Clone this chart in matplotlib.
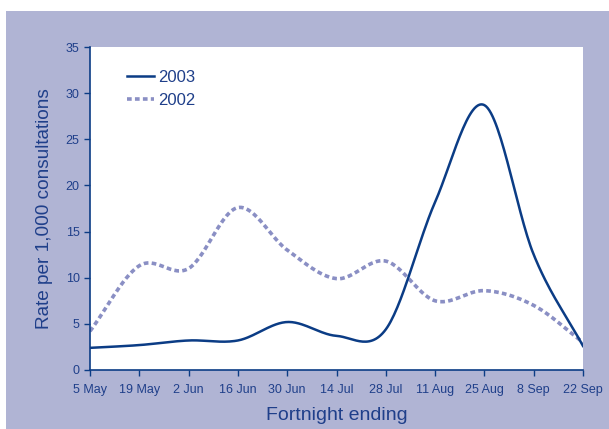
import numpy as np
import matplotlib
matplotlib.use("Agg")
import matplotlib.pyplot as plt
from matplotlib.patches import Rectangle

# -----------------------------
# Data
# -----------------------------
dates = ["5 May", "19 May", "2 Jun", "16 Jun", "30 Jun", "14 Jul",
         "28 Jul", "11 Aug", "25 Aug", "8 Sep", "22 Sep"]
rate_2003 = [2.4, 2.7, 3.2, 3.2, 5.2, 3.7, 4.4, 18.2, 28.7, 12.5, 2.6]
rate_2002 = [4.2, 11.3, 11.0, 17.6, 13.0, 9.9, 11.8, 7.5, 8.6, 7.0, 3.0]

NAVY = "#0b3c85"
LAVENDER = "#8a8fc4"
TEXT = "#1f3f8a"
BG = "#b0b4d4"

plt.rcParams["font.family"] = ["Liberation Sans", "DejaVu Sans"]


def smooth(y, n=30):
    # Catmull-Rom curve through the points, like the spreadsheet "smoothed line"
    y = np.asarray(y, dtype=float)
    p = np.concatenate([[2 * y[0] - y[1]], y, [2 * y[-1] - y[-2]]])
    xs, ys = [], []
    for i in range(len(y) - 1):
        t = np.linspace(0, 1, n, endpoint=False)
        p0, p1, p2, p3 = p[i], p[i + 1], p[i + 2], p[i + 3]
        seg = 0.5 * ((2 * p1) + (-p0 + p2) * t
                     + (2 * p0 - 5 * p1 + 4 * p2 - p3) * t ** 2
                     + (-p0 + 3 * p1 - 3 * p2 + p3) * t ** 3)
        xs.append(i + t)
        ys.append(seg)
    xs.append([len(y) - 1])
    ys.append([y[-1]])
    return np.concatenate(xs), np.concatenate(ys)


fig = plt.figure(figsize=(6.09, 4.29), dpi=100)
fig.patch.set_facecolor("white")
fig.patches.append(Rectangle((6 / 609, 0), 1, (429 - 11) / 429,
                             transform=fig.transFigure, facecolor=BG,
                             edgecolor="none", zorder=-10))

ax = fig.add_axes([90 / 609, (429 - 370) / 429, 493 / 609, 323 / 429])
ax.set_facecolor("white")

x = np.arange(len(dates))
sx, sy = smooth(rate_2003)
ax.plot(sx, sy, color=NAVY, lw=1.8, label="2003", zorder=3)
sx, sy = smooth(rate_2002)
ax.plot(sx, sy, color=LAVENDER, lw=2.6, linestyle=(0, (1.3, 0.9)),
        label="2002", zorder=2)

ax.set_xlim(0, len(dates) - 1)
ax.set_ylim(0, 35)
ax.set_xticks(x)
ax.set_xticklabels(dates)
ax.set_yticks(range(0, 36, 5))

for s in ["top", "right"]:
    ax.spines[s].set_visible(False)
for s in ["left", "bottom"]:
    ax.spines[s].set_color(NAVY)
    ax.spines[s].set_linewidth(1.2)
ax.tick_params(colors=NAVY, labelcolor=TEXT, labelsize=9, length=4,
               width=1.0, direction="out")
ax.tick_params(axis="x", pad=6)

ax.set_xlabel("Fortnight ending", color=TEXT, fontsize=14, labelpad=8)
ax.set_ylabel("Rate per 1,000 consultations", color=TEXT, fontsize=13.7,
              labelpad=9)

leg = ax.legend(loc="upper left", bbox_to_anchor=(0.075, 0.93), frameon=False,
                fontsize=12, handlelength=1.6, handletextpad=0.25,
                labelspacing=0.5, borderpad=0, borderaxespad=0,
                labelcolor=TEXT)

fig.savefig("out.png", dpi=100, facecolor=fig.get_facecolor())
